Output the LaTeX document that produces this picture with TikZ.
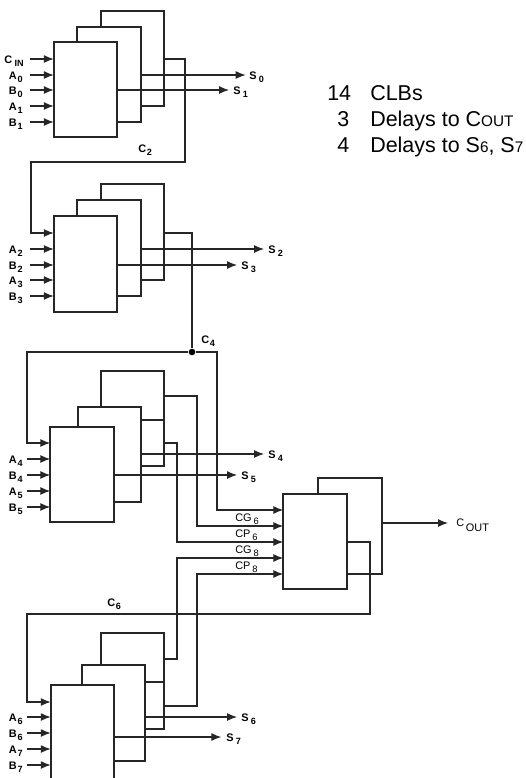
\documentclass[tikz,border=0pt]{standalone}
\usepackage{fontspec}
\setmainfont{Liberation Sans}
\usetikzlibrary{arrows.meta}
\newcommand{\lb}[2]{\textbf{#1}\hspace{0.6pt}\raisebox{-1.8pt}{\fontsize{6.8}{7}\selectfont\textbf{#2}}}
\newcommand{\lbr}[2]{#1\hspace{1.5pt}\raisebox{-2pt}{\fontsize{7}{7}\selectfont #2}}
\tikzset{
clb/.style={draw=black!85, fill=white, line width=1.25pt, inner sep=0pt, outer sep=0pt, minimum width=47.6pt, minimum height=71.6pt},
wire/.style={draw=black!85, line width=0.85pt},
sig/.style={wire, -{Latex[length=7.5pt,width=6pt]}},
inlbl/.style={font=\fontsize{8.2}{9}\selectfont, inner sep=0pt, text height=7pt, text depth=0pt, anchor=east},
outlbl/.style={font=\fontsize{8.2}{9}\selectfont, inner sep=0pt, text height=7pt, text depth=0pt, anchor=west},
notelbl/.style={font=\fontsize{16.1}{18}\selectfont, inner sep=0pt, anchor=base west}
}
\begin{document}
\begin{tikzpicture}[x=0.75pt,y=-0.75pt]
\useasboundingbox (0,0) rectangle (525,778);
\node[clb] (b1) at (132.5,58.5) {};
\node[clb] (m1) at (109,74.5) {};
\node[clb] (f1) at (85.5,89.5) {};
\node[clb] (b2) at (132.5,232) {};
\node[clb] (m2) at (109,248) {};
\node[clb] (f2) at (85.5,264) {};
\node[clb] (b3) at (132.5,418.5) {};
\node[clb] (m3) at (109.5,454.5) {};
\node[clb] (f3) at (82,474.5) {};
\node[clb] (b4) at (132.5,681) {};
\node[clb] (m4) at (113.5,713) {};
\node[clb] (f4) at (82.5,733) {};
\node[clb] (bo) at (350,526) {};
\node[clb] (fo) at (315,541.5) {};
\node[inlbl] (cin) at (24,59) {\lb{C}{\,IN}};
\node[inlbl] (a0) at (23,75) {\lb{A}{0}};
\node[inlbl] (b0) at (23,90) {\lb{B}{0}};
\node[inlbl] (a1) at (23,106) {\lb{A}{1}};
\node[inlbl] (b1l) at (23,122) {\lb{B}{1}};
\node[inlbl] (a2) at (23,249) {\lb{A}{2}};
\node[inlbl] (b2l) at (23,265) {\lb{B}{2}};
\node[inlbl] (a3) at (23,280) {\lb{A}{3}};
\node[inlbl] (b3l) at (23,296) {\lb{B}{3}};
\node[inlbl] (a4) at (23,459) {\lb{A}{4}};
\node[inlbl] (b4l) at (23,475) {\lb{B}{4}};
\node[inlbl] (a5) at (23,491) {\lb{A}{5}};
\node[inlbl] (b5l) at (23,507) {\lb{B}{5}};
\node[inlbl] (a6) at (23,717) {\lb{A}{6}};
\node[inlbl] (b6l) at (23,733) {\lb{B}{6}};
\node[inlbl] (a7) at (23,749) {\lb{A}{7}};
\node[inlbl] (b7l) at (23,765) {\lb{B}{7}};
\node[outlbl] (s0) at (249,75) {\lb{S}{\,0}};
\node[outlbl] (s1) at (233,90) {\lb{S}{\,1}};
\node[outlbl] (s2) at (268,249) {\lb{S}{\,2}};
\node[outlbl] (s3) at (241,265) {\lb{S}{\,3}};
\node[outlbl] (s4) at (268,454) {\lb{S}{\,4}};
\node[outlbl] (s5) at (241,475) {\lb{S}{\,5}};
\node[outlbl] (s6) at (241,717) {\lb{S}{\,6}};
\node[outlbl] (s7) at (226,737) {\lb{S}{\,7}};
\node[outlbl] (cout) at (456,523) {\raisebox{1pt}{C}\,\raisebox{-3pt}{OUT}};
\node[outlbl] (c2) at (138,148) {\lb{C}{2}};
\node[outlbl] (c4) at (201,339) {\lb{C}{4}};
\node[outlbl] (c6) at (107,602) {\lb{C}{6}};
\node[outlbl] (cg6) at (235,517) {\lbr{CG}{6}};
\node[outlbl] (cp6) at (235,533) {\lbr{CP}{6}};
\node[outlbl] (cg8) at (235,549) {\lbr{CG}{8}};
\node[outlbl] (cp8) at (235,565) {\lbr{CP}{8}};
\node[notelbl] (n14) at (327,100) {14};
\node[notelbl] (nclb) at (370,100) {CLBs};
\node[notelbl] (n3) at (337,126) {3};
\node[notelbl] (ndc) at (370,126) {Delays to C{\fontsize{11.5}{12}\selectfont OUT}};
\node[notelbl] (n4) at (337,152) {4};
\node[notelbl] (nds) at (370,152) {Delays to S{\fontsize{11.5}{12}\selectfont 6}, S{\fontsize{11.5}{12}\selectfont 7}};
\node[circle, fill=black, inner sep=0pt, minimum size=5pt] (dot) at (192,352) {};
\coordinate (r2) at (185,162);
\coordinate (l2) at (31,233);
\coordinate (t4) at (192,233);
\coordinate (l4) at (27,443);
\coordinate (r4) at (217,352);
\coordinate (i4) at (217,510);
\coordinate (m3b) at (141,420);
\coordinate (m4b) at (145,682);
\coordinate (g3) at (197,396);
\coordinate (g6) at (197,526);
\coordinate (p3) at (177,443);
\coordinate (p6) at (177,542);
\coordinate (g4) at (177,659);
\coordinate (g8) at (177,558);
\coordinate (p4) at (197,706);
\coordinate (p8) at (197,574);
\coordinate (r6) at (370,614);
\coordinate (l6) at (27,702);
\coordinate (o6) at (347,542);
\draw[sig] ([xshift=4.5pt]cin.east) -- (cin -| f1.west);
\draw[sig] ([xshift=5pt]a0.east) -- (a0 -| f1.west);
\draw[sig] ([xshift=5pt]b0.east) -- (b0 -| f1.west);
\draw[sig] ([xshift=5pt]a1.east) -- (a1 -| f1.west);
\draw[sig] ([xshift=5pt]b1l.east) -- (b1l -| f1.west);
\draw[sig] ([xshift=5pt]a2.east) -- (a2 -| f2.west);
\draw[sig] ([xshift=5pt]b2l.east) -- (b2l -| f2.west);
\draw[sig] ([xshift=5pt]a3.east) -- (a3 -| f2.west);
\draw[sig] ([xshift=5pt]b3l.east) -- (b3l -| f2.west);
\draw[sig] ([xshift=3pt]a4.east) -- (a4 -| f3.west);
\draw[sig] ([xshift=3pt]b4l.east) -- (b4l -| f3.west);
\draw[sig] ([xshift=3pt]a5.east) -- (a5 -| f3.west);
\draw[sig] ([xshift=3pt]b5l.east) -- (b5l -| f3.west);
\draw[sig] ([xshift=3pt]a6.east) -- (a6 -| f4.west);
\draw[sig] ([xshift=3pt]b6l.east) -- (b6l -| f4.west);
\draw[sig] ([xshift=3pt]a7.east) -- (a7 -| f4.west);
\draw[sig] ([xshift=3pt]b7l.east) -- (b7l -| f4.west);
\draw[sig] (s0 -| m1.east) -- ([xshift=-2.5pt]s0.west);
\draw[sig] (s1 -| f1.east) -- ([xshift=-3pt]s1.west);
\draw[sig] (s2 -| m2.east) -- ([xshift=-3pt]s2.west);
\draw[sig] (s3 -| f2.east) -- ([xshift=-3pt]s3.west);
\draw[sig] (s4 -| m3.east) -- ([xshift=-3pt]s4.west);
\draw[sig] (s5 -| f3.east) -- ([xshift=-3pt]s5.west);
\draw[sig] (s6 -| m4.east) -- ([xshift=-3pt]s6.west);
\draw[sig] (s7 -| f4.east) -- ([xshift=-3.5pt]s7.west);
\draw[sig] (bo.east |- cout) -- ([xshift=-6pt]cout.west);
\draw[sig] (cin -| b1.east) -| (r2) -| (l2) -- (l2 -| f2.west);
\draw[wire] (t4 -| b2.east) -- (t4) -- (dot);
\draw[sig] (dot) -| (l4) -- (l4 -| f3.west);
\draw[sig] (dot) -- (r4) -- (i4) -- (i4 -| fo.west);
\draw[wire] (m3b) -- (m3b -| b3.east);
\draw[wire] (m4b) -- (m4b -| b4.east);
\draw[sig] (g3 -| b3.east) -- (g3) -- (g6) -- (g6 -| fo.west);
\draw[sig] (p3 -| b3.east) -- (p3) -- (p6) -- (p6 -| fo.west);
\draw[sig] (g4 -| b4.east) -- (g4) -- (g8) -- (g8 -| fo.west);
\draw[sig] (p4 -| b4.east) -- (p4) -- (p8) -- (p8 -| fo.west);
\draw[sig] (o6) -| (r6) -| (l6) -- (l6 -| f4.west);
\end{tikzpicture}
\end{document}
